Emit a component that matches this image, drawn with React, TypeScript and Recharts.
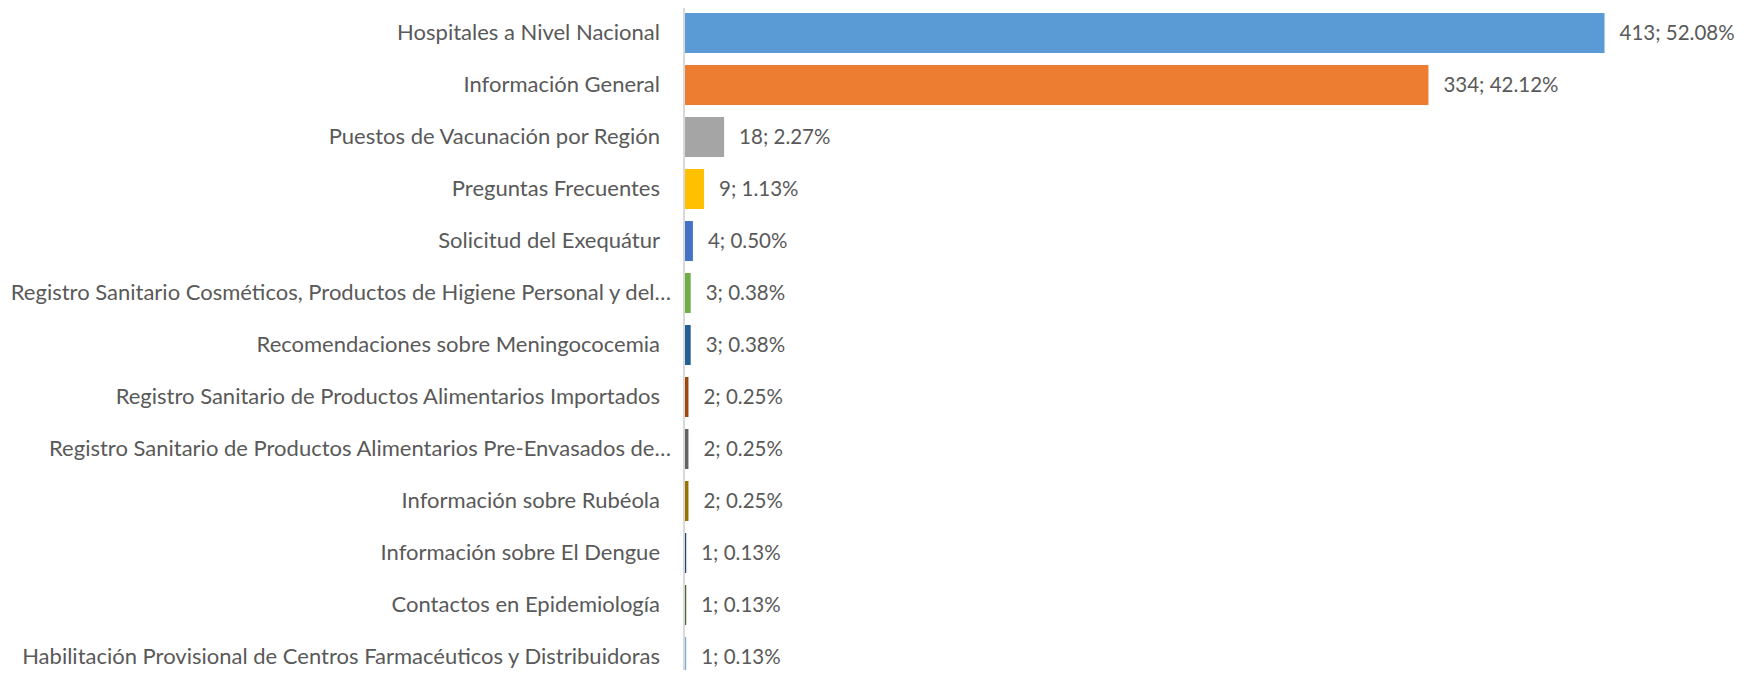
import React from 'react';
import { BarChart, Bar, XAxis, YAxis, Cell, LabelList } from 'recharts';

const categories = [
  'Hospitales a Nivel Nacional',
  'Información General',
  'Puestos de Vacunación por Región',
  'Preguntas Frecuentes',
  'Solicitud del Exequátur',
  'Registro Sanitario Cosméticos, Productos de Higiene Personal y del…',
  'Recomendaciones sobre Meningococemia',
  'Registro Sanitario de Productos Alimentarios Importados',
  'Registro Sanitario de Productos Alimentarios Pre-Envasados de…',
  'Información sobre Rubéola',
  'Información sobre El Dengue',
  'Contactos en Epidemiología',
  'Habilitación Provisional de Centros Farmacéuticos y Distribuidoras',
];

const counts = [413, 334, 18, 9, 4, 3, 3, 2, 2, 2, 1, 1, 1];

const percents = ['52.08%', '42.12%', '2.27%', '1.13%', '0.50%', '0.38%', '0.38%', '0.25%', '0.25%', '0.25%', '0.13%', '0.13%', '0.13%'];

const barColors = [
  '#5B9BD5', '#ED7D31', '#A5A5A5', '#FFC000', '#4472C4', '#70AD47', '#255E91',
  '#9E480E', '#636363', '#997300', '#264478', '#43682B', '#7CAFDD',
];

const data = categories.map((name, i) => ({
  name,
  value: counts[i],
  label: `${counts[i]}; ${percents[i]}`,
}));

const FONT = 'Lato, "Open Sans", sans-serif';
const TEXT_COLOR = '#595959';

// truncated labels sit closer to the axis, like in the original
const CategoryTick = (props: any) => {
  const { x, y, payload } = props;
  const cut = String(payload.value).endsWith('…');
  return (
    <text x={x - (cut ? 5 : 16)} y={y} dy={7} textAnchor="end" fill={TEXT_COLOR} fontSize={22} fontFamily={FONT}>
      {payload.value}
    </text>
  );
};

export default function App() {
  return (
    <div style={{ margin: -8, width: 1744, height: 678, overflow: 'hidden', background: '#fff' }}>
      <BarChart
        width={1744}
        height={690}
        data={data}
        layout="vertical"
        margin={{ top: 7, right: 57, bottom: 7, left: 0 }}
        barSize={40}
      >
        <XAxis type="number" domain={[0, 450]} hide />
        <YAxis
          type="category"
          dataKey="name"
          width={684}
          axisLine={{ stroke: '#D9D9D9', strokeWidth: 2 }}
          tickLine={false}
          tick={<CategoryTick />}
          interval={0}
        />
        <Bar dataKey="value" isAnimationActive={false}>
          {data.map((d, i) => (
            <Cell key={d.name} fill={barColors[i]} />
          ))}
          <LabelList dataKey="label" position="right" offset={15} fill={TEXT_COLOR} fontSize={20.5} fontFamily={FONT} />
        </Bar>
      </BarChart>
    </div>
  );
}
